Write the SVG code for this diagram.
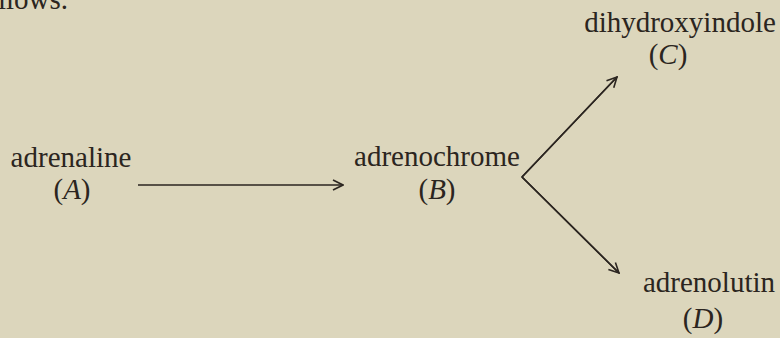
<svg xmlns="http://www.w3.org/2000/svg" width="780" height="338" viewBox="0 0 780 338">
<defs>
<style>
text{font-family:"Liberation Serif","Times New Roman",serif;font-size:29px;fill:#2b2520;text-anchor:middle}
.i{font-style:italic}
.c{fill:none;stroke:#2b2520;stroke-width:1.6}
</style>
<marker id="ah" viewBox="0 0 12 12" refX="11" refY="6" markerWidth="12" markerHeight="12" markerUnits="userSpaceOnUse" orient="auto">
<path d="M1,1 L11,6 L1,11" fill="none" stroke="#2b2520" stroke-width="1.6"/>
</marker>
</defs>
<rect width="780" height="338" fill="#dcd6bc"/>
<text x="-2" y="9" style="text-anchor:start">llows.</text>
<g id="A"><text x="71" y="167">adrenaline</text><text x="72" y="199">(<tspan class="i">A</tspan>)</text></g>
<g id="B"><text x="437" y="166">adrenochrome</text><text x="437" y="199">(<tspan class="i">B</tspan>)</text></g>
<g id="C"><text x="680" y="32">dihydroxyindole</text><text x="668" y="64">(<tspan class="i">C</tspan>)</text></g>
<g id="D"><text x="709" y="292">adrenolutin</text><text x="703" y="328">(<tspan class="i">D</tspan>)</text></g>
<g id="connectors">
<line class="c" x1="138" y1="185" x2="343" y2="185" marker-end="url(#ah)"/>
<polyline class="c" points="617,77 522,177 619,273"/>
<line class="c" x1="522" y1="177" x2="617" y2="77" marker-end="url(#ah)"/>
<line class="c" x1="522" y1="177" x2="619" y2="273" marker-end="url(#ah)"/>
</g>
</svg>
